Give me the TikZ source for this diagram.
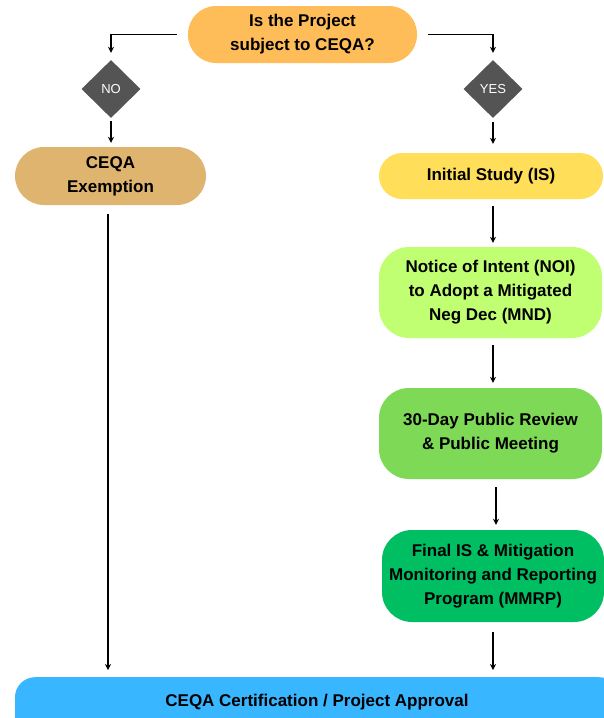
\documentclass[tikz,border=0pt]{standalone}
\usepackage{fontspec}
\setmainfont{Liberation Sans}
\usetikzlibrary{shapes.geometric,arrows.meta}
\definecolor{cOrange}{HTML}{FFBD59}
\definecolor{cTan}{HTML}{DEB46E}
\definecolor{cYellow}{HTML}{FFDE59}
\definecolor{cLime}{HTML}{C1FF72}
\definecolor{cGreen}{HTML}{7ED957}
\definecolor{cDkGreen}{HTML}{00BF63}
\definecolor{cBlue}{HTML}{38B6FF}
\definecolor{cGray}{HTML}{545454}
\tikzset{
  pill/.style={draw=none, align=center, inner sep=0pt, font=\fontsize{17}{24}\selectfont\bfseries, text=black},
  dia/.style={diamond, fill=cGray, draw=none, inner sep=0pt, minimum width=59pt, minimum height=58pt, text=white, font=\fontsize{13}{15}\selectfont},
  arr/.style={draw=black, line width=1.3pt, -{Stealth[length=6pt,width=6pt]}},
  ln/.style={draw=black, line width=1.3pt}
}
\begin{document}
\begin{tikzpicture}[x=1pt,y=-1pt]
\useasboundingbox (0,0) rectangle (604,718);
\begin{scope}
\clip (0,0) rectangle (604,718);
\node[pill, fill=cOrange, minimum width=229pt, minimum height=57pt, rounded corners=28pt] (top) at (302.5,34.5) {Is the Project\\subject to CEQA?};
\node[dia] (no) at (111,89) {NO};
\node[dia] (yes) at (493,89) {YES};
\node[pill, fill=cTan, minimum width=191pt, minimum height=58pt, rounded corners=29pt] (exempt) at (110.5,176) {CEQA\\Exemption};
\node[pill, fill=cYellow, minimum width=224pt, minimum height=46pt, rounded corners=23pt] (is) at (491,176) {Initial Study (IS)};
\node[pill, fill=cLime, minimum width=223pt, minimum height=91pt, rounded corners=30pt] (noi) at (490.5,292.5) {Notice of Intent (NOI)\\to Adopt a Mitigated\\Neg Dec (MND)};
\node[pill, fill=cGreen, minimum width=223pt, minimum height=91pt, rounded corners=30pt] (pub) at (490.5,433.5) {30-Day Public Review\\\& Public Meeting};
\node[pill, fill=cDkGreen, minimum width=222pt, minimum height=92pt, rounded corners=30pt] (fin) at (493,576) {Final IS \& Mitigation\\Monitoring and Reporting\\Program (MMRP)};
\node[pill, fill=cBlue, anchor=north, minimum width=604pt, text height=29pt, text depth=40pt, inner ysep=0pt, rounded corners=20pt] (final) at (317,677) {CEQA Certification / Project Approval};
\end{scope}
\coordinate (exl) at ([xshift=-2.5pt]exempt.south);
\coordinate (pubr) at ([xshift=3pt]pub.south -| yes.south);
% connectors
\draw[arr, shorten >=7pt] ([xshift=-11pt]top.west) -| (no.north);
\draw[arr, shorten >=7pt] ([xshift=11pt]top.east) -| (yes.north);
\draw[arr, shorten <=3pt, shorten >=4pt] (no.south) -- (exempt.north -| no.south);
\draw[arr, shorten <=4pt, shorten >=9pt] (yes.south) -- (is.north -| yes.south);
\draw[arr, shorten <=9pt, shorten >=7pt] (exl) -- (final.north -| exl);
\draw[arr, shorten <=7pt, shorten >=4pt] (is.south -| yes.south) -- (noi.north -| yes.south);
\draw[arr, shorten <=7pt, shorten >=5pt] (noi.south -| yes.south) -- (pub.north -| yes.south);
\draw[arr, shorten <=8pt, shorten >=5pt] (pubr) -- (fin.north -| pubr);
\draw[arr, shorten <=10pt, shorten >=7pt] (fin.south -| yes.south) -- (final.north -| yes.south);
\end{tikzpicture}
\end{document}
